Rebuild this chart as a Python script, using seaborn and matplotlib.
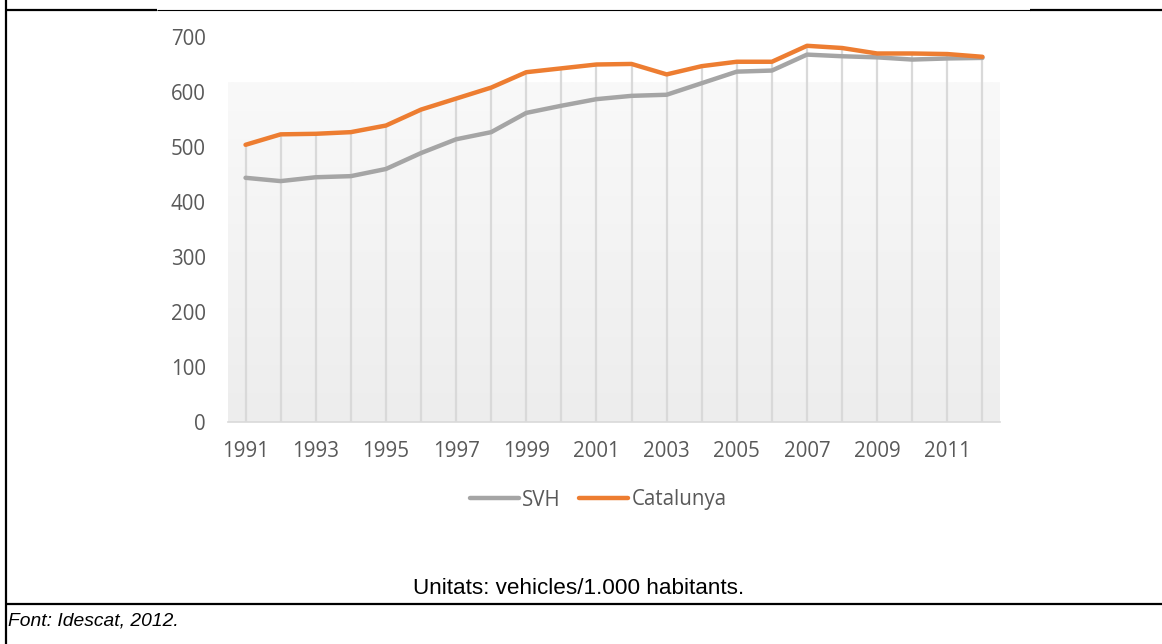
import numpy as np
import pandas as pd
import matplotlib
matplotlib.use("Agg")
import matplotlib.pyplot as plt
from matplotlib.lines import Line2D
import seaborn as sns

years = list(range(1991, 2013))
svh = [444, 438, 445, 447, 460, 489, 514, 527, 562, 575, 587, 593, 595, 616,
       637, 639, 668, 665, 663, 659, 661, 662]
catalunya = [504, 523, 524, 527, 539, 568, 588, 608, 636, 643, 650, 651, 632, 647,
             655, 655, 684, 680, 670, 670, 669, 664]
series_names = ["SVH", "Catalunya"]
series_colors = ["#a5a5a5", "#ed7d31"]
yticks = [0, 100, 200, 300, 400, 500, 600, 700]
xticks = list(range(1991, 2012, 2))
caption = "Unitats: vehicles/1.000 habitants."
source = "Font: Idescat, 2012."

df = pd.concat([
    pd.DataFrame({"Any": years, "Valor": svh, "Serie": "SVH"}),
    pd.DataFrame({"Any": years, "Valor": catalunya, "Serie": "Catalunya"}),
])

sns.set_theme(style="white")
plt.rcParams["font.family"] = ["Open Sans", "DejaVu Sans"]

W, H = 1162, 644
fig = plt.figure(figsize=(W / 100, H / 100), dpi=100)
ax = fig.add_axes([228 / W, 1 - 422 / H, (1000 - 228) / W, (422 - 37) / H])

# gradient plot-area fill
grad = np.linspace(0, 1, 256).reshape(-1, 1)
cmap = matplotlib.colors.LinearSegmentedColormap.from_list("g", ["#ededed", "#f9f9f9"])
ax.imshow(grad, extent=[1990.5, 2012.5, 0, 618], origin="lower", aspect="auto",
          cmap=cmap, zorder=0, interpolation="bilinear")

# drop lines
ax.vlines(years, 0, np.maximum(svh, catalunya), color="#d9d9d9", lw=1.6, zorder=1)

sns.lineplot(data=df, x="Any", y="Valor", hue="Serie", hue_order=series_names,
             palette=series_colors, lw=3.2, ax=ax, legend=False, zorder=3,
             solid_capstyle="round", solid_joinstyle="round")

ax.set_xlim(1990.5, 2012.5)
ax.set_ylim(0, 700)
ax.set_xticks(xticks)
ax.set_xticklabels([str(x) for x in xticks])
ax.set_yticks(yticks)
ax.set_yticklabels([str(y) for y in yticks])
ax.set_xlabel("")
ax.set_ylabel("")
ax.tick_params(axis="both", length=0, labelsize=14.8, labelcolor="#595959")
ax.tick_params(axis="x", pad=14)
ax.tick_params(axis="y", pad=16)
for s in ["top", "right", "left"]:
    ax.spines[s].set_visible(False)
ax.spines["bottom"].set_color("#d9d9d9")
ax.spines["bottom"].set_linewidth(1.2)
ax.grid(False)
ax.set_facecolor("none")

handles = [Line2D([], [], color=c, lw=3.2, solid_capstyle="round") for c in series_colors]
fig.legend(handles, series_names, loc="center", bbox_to_anchor=(598 / W, 1 - 500 / H),
           ncol=2, frameon=False, fontsize=14.8, handlelength=2.4, handletextpad=0.15,
           columnspacing=0.9, labelcolor="#595959")

# captions
fig.text(579 / W, 1 - 589 / H, caption, ha="center", va="center",
         family=["Liberation Sans", "DejaVu Sans"], fontsize=16.2, color="black")
fig.text(8 / W, 1 - 621 / H, source, ha="left", va="center", style="italic",
         family=["Liberation Sans", "DejaVu Sans"], fontsize=13.9, color="black")

# table borders
def fl(x0, y0, x1, y1, lw):
    fig.add_artist(Line2D([x0 / W, x1 / W], [1 - y0 / H, 1 - y1 / H],
                          transform=fig.transFigure, color="black", lw=lw,
                          solid_capstyle="butt"))

fl(6, 0, 6, 644, 1.6)
fl(5, 10, 157, 10, 1.6)
fl(157, 10, 1030, 10, 0.8)
fl(1030, 10, 1162, 10, 1.6)
fl(5, 604, 1162, 604, 1.6)

fig.savefig("out.png", dpi=100)
